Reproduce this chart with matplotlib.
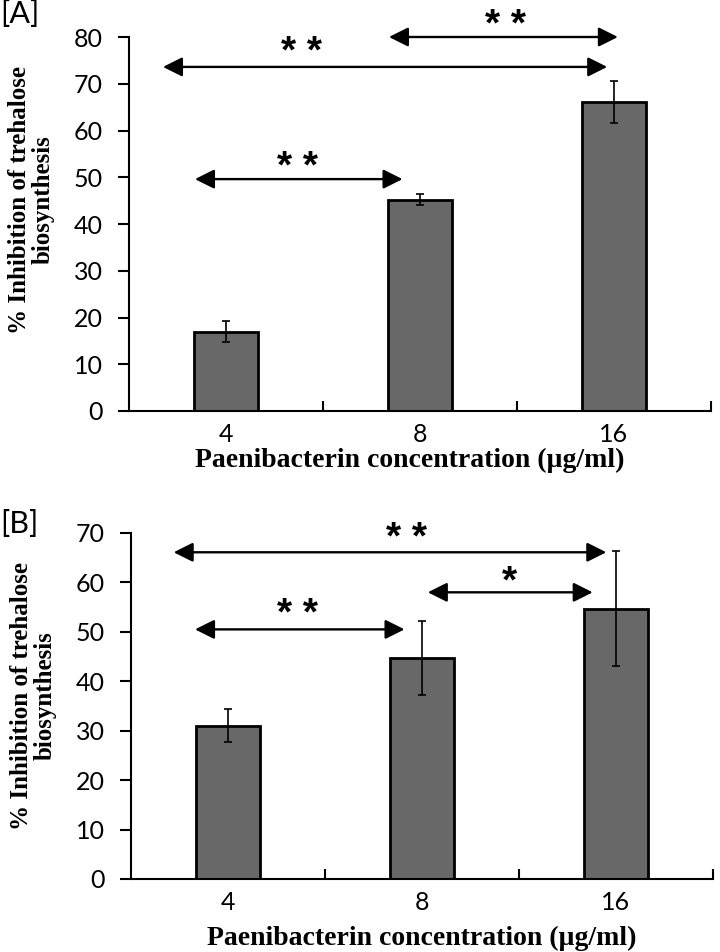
import numpy as np
import matplotlib.pyplot as plt

# data
conc = ['4', '8', '16']
inhib_a = [17.0, 45.2, 66.0]
err_a = [2.2, 1.2, 4.5]
inhib_b = [31.0, 44.7, 54.7]
err_b = [3.3, 7.5, 11.6]

# significance arrows: (start, end, y level, star label, star x, star y)
sig_a = [(-0.16, 0.91, 49.6, '* *', 0.37, 52.0),
         (-0.325, 1.965, 73.6, '* *', 0.39, 76.6),
         (0.84, 2.02, 80.0, '* *', 1.44, 82.4)]
sig_b = [(-0.17, 0.91, 50.5, '* *', 0.36, 53.4),
         (-0.28, 1.95, 66.1, '* *', 0.92, 68.8),
         (1.03, 1.88, 58.0, '*', 1.45, 60.0)]

sans = 'Lato'
serif = 'Liberation Serif'
xlab = 'Paenibacterin concentration (\u00b5g/ml)'
ylab = '% Inhibition of trehalose\nbiosynthesis'

fig = plt.figure(figsize=(7.2, 9.52), dpi=100)
ax_a = fig.add_axes([129/720, 1-411/952, 582/720, 374/952])
ax_b = fig.add_axes([131/720, 1-879/952, 582/720, 346/952])


def draw(ax, vals, errs, sig, ymax, ylab_y, xlab_x, xlab_y):
    x = np.arange(len(conc))
    ax.bar(x, vals, width=0.335, color='#686868', edgecolor='black', linewidth=2.0, zorder=2)
    ax.errorbar(x, vals, yerr=errs, fmt='none', ecolor='black', elinewidth=1.2,
                capsize=3.2, capthick=1.2, zorder=3)
    ax.set_xlim(-0.5, len(conc) - 0.5)
    ax.set_ylim(0, ymax)
    ax.set_yticks(np.arange(0, ymax + 1, 10))
    ax.set_xticks(x)
    ax.set_xticklabels(conc)
    ax.set_xticks(np.arange(len(conc)) + 0.5, minor=True)
    ax.tick_params(axis='x', which='major', length=0, pad=9, labelsize=18)
    ax.tick_params(axis='x', which='minor', direction='in', length=7, width=1.5)
    ax.tick_params(axis='y', direction='out', length=8, width=1.5, pad=11, labelsize=18)
    for lbl in ax.get_xticklabels() + ax.get_yticklabels():
        lbl.set_fontfamily(sans)
    for s in ['top', 'right']:
        ax.spines[s].set_visible(False)
    for s in ['left', 'bottom']:
        ax.spines[s].set_linewidth(1.5)
    ax.set_xlabel(xlab, fontfamily=serif, fontweight='bold', fontsize=20)
    ax.xaxis.set_label_coords(xlab_x, xlab_y)
    ax.xaxis.label.set_va('top')
    ax.text(-0.168, ylab_y, ylab, transform=ax.transAxes, rotation=90, ha='center',
            va='center', multialignment='center', fontfamily=serif, fontweight='bold',
            fontsize=18, linespacing=1.0)
    for x0, x1, y, lab, sx, sy in sig:
        ax.annotate('', xy=(x1, y), xytext=(x0, y), annotation_clip=False,
                    arrowprops=dict(arrowstyle='<|-|>,head_length=0.9,head_width=0.45',
                                    mutation_scale=13, color='black', lw=1.7,
                                    shrinkA=0, shrinkB=0))
        ax.text(sx, sy, lab, ha='center', va='center', fontsize=28, fontweight='bold',
                fontfamily='Liberation Sans', clip_on=False)


draw(ax_a, inhib_a, err_a, sig_a, 80, 0.564, 0.482, -0.098)
draw(ax_b, inhib_b, err_b, sig_b, 70, 0.53, 0.5, -0.136)

fig.text(0.0, 1.0, '[A]', ha='left', va='top', fontsize=22, fontfamily=sans)
fig.text(0.0, 1 - 510/952, '[B]', ha='left', va='top', fontsize=22, fontfamily=sans)

fig.savefig('out.png', dpi=100)
